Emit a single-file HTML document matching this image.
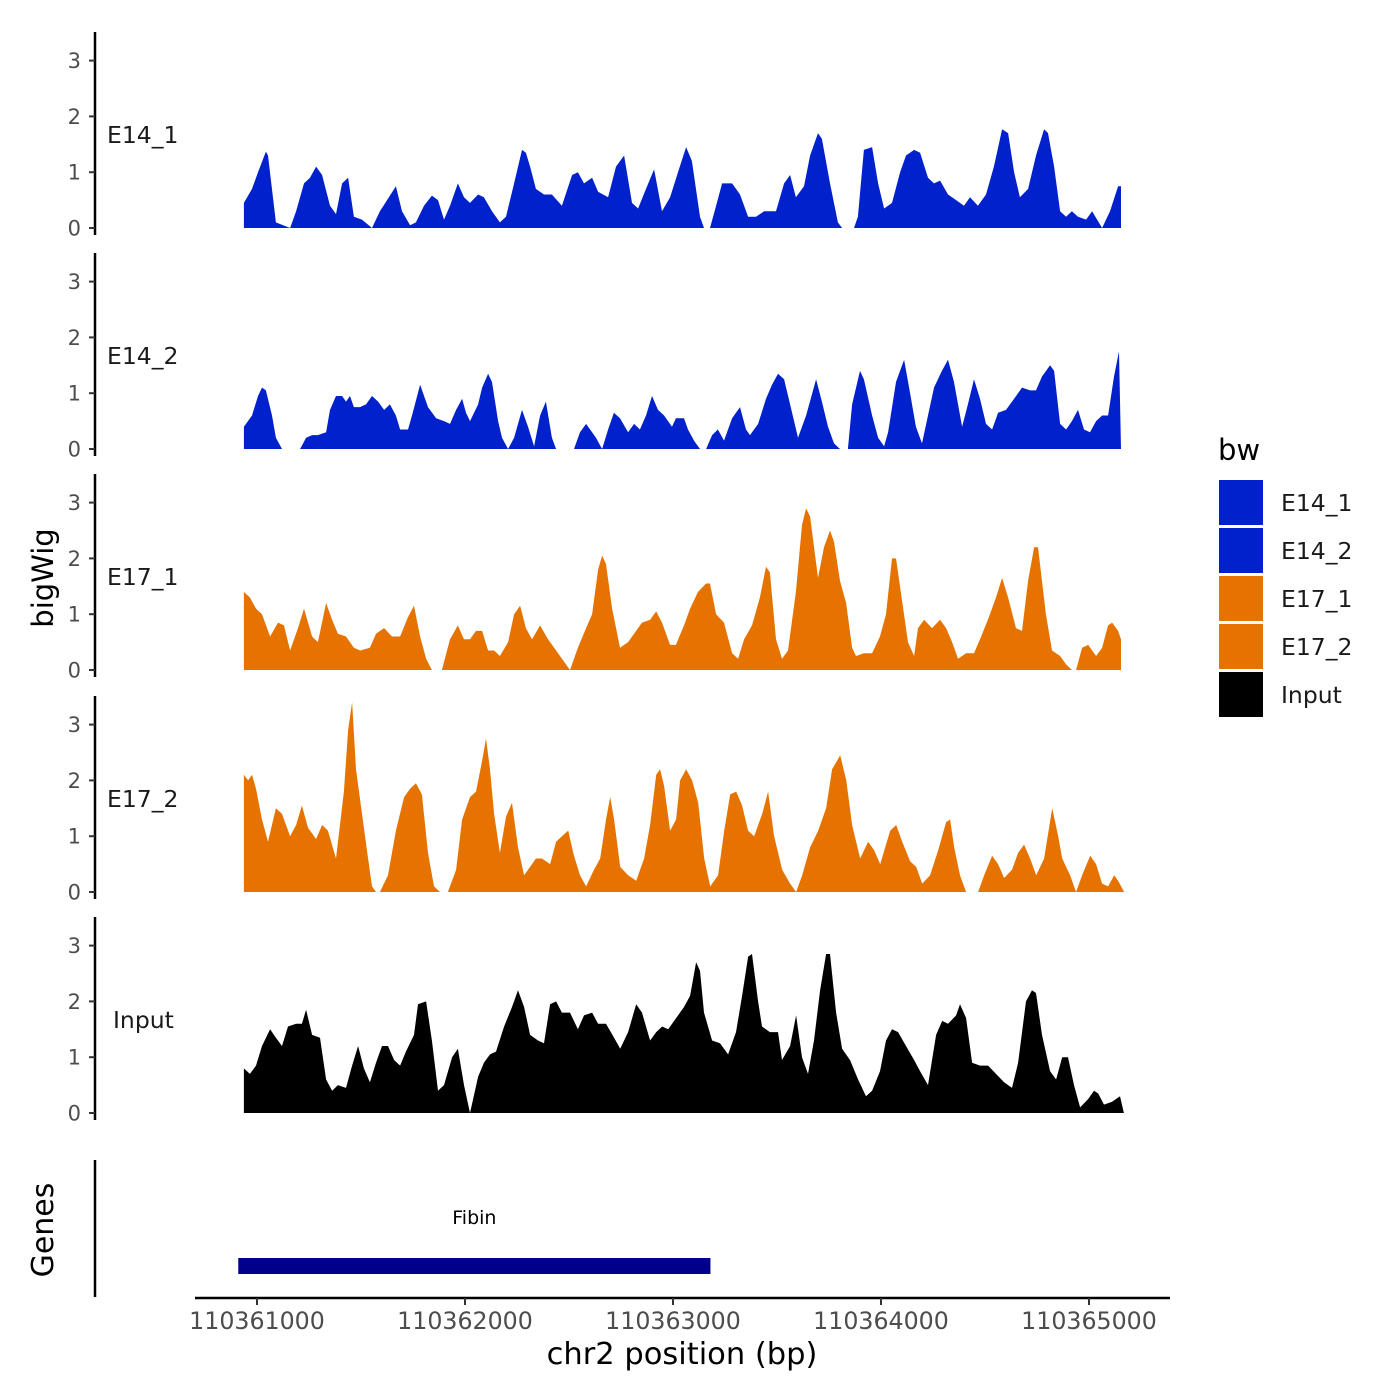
<!DOCTYPE html>
<html><head><meta charset="utf-8"><style>
html,body{margin:0;padding:0;background:#fff;}
svg{display:block;font-family:"DejaVu Sans","Liberation Sans",sans-serif;}
</style></head><body>
<svg id="chart" width="1400" height="1400" viewBox="0 0 1400 1400"></svg>
<script>
// ---------- data (positions are bp offsets from 110361000) ----------
const trackNames = ["E14_1","E14_2","E17_1","E17_2","Input"];
const yTicks = [0,1,2,3];
const xTicks = [110361000,110362000,110363000,110364000,110365000];
const geneName = "Fibin";
const geneStart = -90, geneEnd = 2180;

const e14_1Pos = [-63,-24,5,43,53,91,159,188,226,255,284,313,351,380,409,438,466,505,553,591,668,697,736,764,803,841,870,899,928,966,995,1024,1063,1091,1130,1168,1197,1236,1274,1293,1313,1341,1380,1418,1466,1515,1543,1572,1611,1640,1688,1726,1765,1803,1832,1870,1909,1947,1986,2024,2063,2091,2130,2149,2178,2207,2236,2284,2322,2361,2399,2438,2495,2534,2563,2591,2630,2659,2697,2716,2755,2793,2813,2870,2889,2918,2957,2986,3015,3053,3092,3120,3159,3188,3226,3255,3284,3322,3361,3399,3428,3466,3505,3543,3582,3611,3640,3668,3707,3745,3784,3803,3832,3861,3890,3918,3947,3986,4015,4063,4101,4140,4154];
const e14_1Val = [0.45,0.7,1.0,1.37,1.3,0.1,0,0.3,0.8,0.9,1.1,0.95,0.4,0.25,0.8,0.9,0.2,0.15,0,0.3,0.75,0.3,0.05,0.1,0.4,0.58,0.5,0.15,0.4,0.8,0.55,0.45,0.6,0.55,0.3,0.1,0.2,0.8,1.4,1.35,1.1,0.7,0.6,0.6,0.4,0.95,1.0,0.8,0.9,0.65,0.55,1.1,1.3,0.45,0.35,0.7,1.05,0.3,0.55,1.0,1.45,1.2,0.2,0,0,0.4,0.8,0.8,0.6,0.2,0.2,0.3,0.3,0.8,0.95,0.55,0.75,1.3,1.7,1.6,0.8,0.1,0,0,0.2,1.4,1.45,0.8,0.35,0.45,1.0,1.3,1.4,1.35,0.9,0.8,0.85,0.6,0.5,0.4,0.55,0.4,0.6,1.1,1.77,1.7,1.0,0.55,0.7,1.3,1.77,1.7,1.1,0.3,0.2,0.3,0.2,0.15,0.3,0.0,0.3,0.75,0.75];

const e14_2Pos = [-63,-24,5,24,43,72,91,120,207,236,265,293,332,351,380,409,428,447,466,495,524,553,582,611,639,668,688,726,745,784,822,861,899,928,957,986,1005,1024,1063,1082,1111,1130,1159,1178,1207,1236,1274,1303,1332,1361,1389,1418,1438,1524,1553,1582,1630,1659,1688,1716,1745,1784,1813,1841,1870,1899,1928,1957,1995,2014,2053,2072,2101,2130,2159,2188,2216,2245,2284,2322,2351,2370,2409,2447,2476,2505,2534,2563,2601,2640,2688,2716,2745,2774,2803,2841,2861,2899,2918,2957,2986,3015,3034,3072,3111,3140,3168,3197,3226,3255,3293,3322,3351,3390,3418,3447,3476,3505,3534,3563,3601,3640,3678,3717,3745,3774,3813,3832,3861,3890,3918,3947,3976,4005,4034,4063,4092,4120,4144,4154];
const e14_2Val = [0.4,0.6,0.95,1.1,1.05,0.6,0.2,0,0,0.2,0.25,0.25,0.3,0.7,0.95,0.95,0.85,0.95,0.75,0.75,0.8,0.95,0.85,0.7,0.8,0.6,0.35,0.35,0.6,1.15,0.75,0.55,0.5,0.45,0.7,0.9,0.65,0.5,0.8,1.1,1.35,1.2,0.5,0.2,0,0.2,0.7,0.4,0.05,0.6,0.85,0.2,0,0,0.3,0.45,0.2,0,0.35,0.65,0.55,0.3,0.45,0.35,0.6,0.95,0.7,0.6,0.4,0.55,0.55,0.35,0.15,0,0,0.25,0.35,0.15,0.55,0.75,0.35,0.25,0.45,0.9,1.15,1.35,1.25,0.8,0.2,0.6,1.25,0.85,0.4,0.1,0,0,0.8,1.4,1.25,0.6,0.2,0.05,0.3,1.2,1.6,1.0,0.4,0.1,0.6,1.1,1.4,1.6,1.2,0.4,0.8,1.25,0.9,0.45,0.35,0.65,0.7,0.9,1.1,1.05,1.05,1.3,1.5,1.4,0.45,0.35,0.5,0.7,0.35,0.3,0.5,0.6,0.6,1.3,1.75,0];

const e17_1Pos = [-63,-34,-5,24,63,101,130,159,197,226,265,293,332,361,389,428,466,495,543,572,611,649,688,726,755,784,813,841,889,928,966,995,1024,1053,1082,1111,1140,1168,1207,1236,1265,1293,1322,1361,1399,1438,1476,1505,1543,1582,1611,1640,1659,1678,1707,1745,1784,1813,1851,1890,1919,1947,1986,2014,2053,2082,2120,2159,2178,2207,2245,2284,2313,2342,2380,2418,2447,2466,2495,2524,2553,2591,2620,2640,2659,2697,2726,2755,2774,2803,2832,2861,2880,2918,2957,2995,3024,3053,3072,3101,3130,3159,3178,3207,3245,3284,3313,3342,3370,3409,3447,3476,3514,3553,3582,3611,3649,3678,3707,3736,3755,3793,3822,3861,3890,3918,3938,3967,3996,4034,4063,4092,4111,4140,4154];
const e17_1Val = [1.4,1.3,1.1,1.0,0.6,0.85,0.8,0.35,0.75,1.1,0.6,0.5,1.2,0.9,0.65,0.6,0.4,0.35,0.4,0.65,0.75,0.6,0.6,0.95,1.15,0.6,0.2,0,0,0.55,0.8,0.55,0.55,0.7,0.7,0.35,0.35,0.25,0.5,1.0,1.15,0.75,0.55,0.8,0.55,0.35,0.15,0,0.4,0.75,1.0,1.8,2.05,1.9,1.1,0.4,0.5,0.65,0.85,0.9,1.05,0.85,0.45,0.45,0.8,1.1,1.4,1.55,1.55,1.0,0.85,0.3,0.2,0.55,0.8,1.3,1.85,1.75,0.55,0.2,0.35,1.4,2.6,2.9,2.75,1.65,2.2,2.5,2.3,1.6,1.2,0.4,0.25,0.3,0.3,0.6,1.0,2.0,2.0,1.25,0.5,0.25,0.75,0.9,0.75,0.9,0.75,0.5,0.2,0.3,0.3,0.55,0.9,1.3,1.65,1.3,0.75,0.7,1.6,2.2,2.2,1.0,0.35,0.25,0.1,0,0,0.4,0.45,0.25,0.4,0.8,0.85,0.7,0.55];

const e17_2Pos = [-63,-43,-24,-5,24,53,91,120,159,188,216,245,284,313,341,380,418,438,457,476,505,534,553,572,591,630,668,707,736,764,793,822,851,880,918,957,986,1024,1053,1082,1101,1120,1140,1168,1197,1226,1255,1284,1313,1341,1370,1409,1438,1466,1496,1524,1553,1582,1620,1650,1678,1698,1717,1746,1784,1823,1861,1890,1919,1938,1957,1986,2015,2034,2063,2092,2121,2150,2179,2217,2246,2275,2304,2332,2361,2390,2429,2457,2486,2525,2563,2592,2621,2659,2698,2736,2765,2804,2833,2861,2900,2938,2967,2996,3044,3073,3102,3140,3169,3198,3236,3275,3313,3332,3352,3380,3409,3467,3496,3534,3563,3592,3630,3659,3688,3717,3746,3784,3823,3852,3871,3909,3938,3967,4006,4034,4063,4092,4121,4140,4169];
const e17_2Val = [2.1,2.0,2.1,1.85,1.3,0.9,1.5,1.4,1.0,1.2,1.55,1.15,0.95,1.2,1.1,0.6,1.8,2.9,3.4,2.2,1.4,0.6,0.1,0,0,0.3,1.1,1.7,1.85,1.95,1.75,0.7,0.1,0,0,0.4,1.3,1.7,1.8,2.35,2.75,2.2,1.4,0.7,1.35,1.6,0.8,0.3,0.45,0.6,0.6,0.5,0.9,1.0,1.1,0.65,0.3,0.1,0.4,0.6,1.3,1.7,1.3,0.45,0.3,0.2,0.6,1.2,2.1,2.2,1.9,1.1,1.3,2.0,2.2,2.0,1.6,0.6,0.1,0.3,1.1,1.75,1.8,1.55,1.1,1.0,1.4,1.8,1.0,0.4,0.15,0,0.3,0.8,1.1,1.5,2.2,2.45,2.0,1.2,0.6,0.9,0.75,0.5,1.1,1.2,0.9,0.55,0.45,0.15,0.3,0.75,1.25,1.3,0.8,0.3,0,0,0.3,0.65,0.5,0.25,0.4,0.7,0.85,0.6,0.3,0.6,1.5,1.0,0.6,0.3,0,0.3,0.65,0.5,0.15,0.1,0.3,0.2,0];

const inputPos = [-63,-34,-5,24,63,91,120,149,188,216,236,265,303,332,361,389,428,457,486,514,543,572,601,630,659,688,716,755,774,813,841,870,899,938,966,995,1024,1063,1091,1120,1149,1188,1226,1255,1284,1313,1351,1380,1409,1438,1466,1505,1543,1572,1611,1640,1678,1717,1746,1784,1823,1851,1890,1919,1948,1977,2015,2053,2082,2111,2130,2149,2188,2226,2265,2303,2332,2361,2380,2409,2428,2466,2505,2524,2563,2592,2620,2649,2678,2707,2736,2755,2784,2813,2851,2890,2928,2957,2995,3024,3053,3082,3120,3159,3188,3226,3265,3294,3322,3361,3380,3409,3438,3476,3515,3553,3592,3630,3659,3697,3726,3745,3774,3813,3842,3871,3899,3928,3957,3996,4024,4044,4072,4111,4149,4168];
const inputVal = [0.8,0.7,0.85,1.2,1.5,1.35,1.2,1.55,1.6,1.6,1.85,1.4,1.35,0.6,0.4,0.5,0.45,0.85,1.2,0.8,0.55,0.9,1.2,1.2,0.95,0.85,1.1,1.4,1.95,2.0,1.3,0.4,0.5,1.0,1.15,0.5,0.0,0.65,0.9,1.05,1.1,1.55,1.9,2.2,1.9,1.4,1.3,1.25,1.95,2.0,1.8,1.8,1.5,1.75,1.8,1.6,1.6,1.35,1.15,1.45,1.95,1.8,1.3,1.45,1.55,1.5,1.7,1.9,2.1,2.7,2.55,1.8,1.3,1.25,1.05,1.45,2.1,2.8,2.85,2.0,1.55,1.45,1.45,0.95,1.2,1.75,1.0,0.7,1.3,2.2,2.85,2.85,1.8,1.15,0.95,0.6,0.3,0.4,0.75,1.3,1.5,1.45,1.2,0.95,0.75,0.5,1.4,1.65,1.6,1.75,1.95,1.7,0.9,0.85,0.85,0.7,0.55,0.45,0.9,2.0,2.2,2.15,1.4,0.75,0.6,1.0,1.0,0.5,0.1,0.25,0.4,0.35,0.15,0.2,0.3,0];

const trackPos = [e14_1Pos,e14_2Pos,e17_1Pos,e17_2Pos,inputPos];
const trackVal = [e14_1Val,e14_2Val,e17_1Val,e17_2Val,inputVal];
const trackColor = ["#0021CC","#0021CC","#E67300","#E67300","#000000"];

// ---------- scales ----------
const NS="http://www.w3.org/2000/svg";
const svg=document.getElementById('chart');
const X0=110361000;
function xScale(off){return 257 + off/1000*208;}
function xAbs(bp){return xScale(bp-X0);}
const baselines=[228,449,670,892,1113];
const unit=55.8;
function mk(tag,attrs,parent){const e=document.createElementNS(NS,tag);for(const k in attrs)e.setAttribute(k,attrs[k]);(parent||svg).appendChild(e);return e;}

trackNames.forEach((name,i)=>{
  const base=baselines[i];
  const g=mk('g',{});
  
  
  const pos=trackPos[i], val=trackVal[i];
  let d='M'+xScale(pos[0]).toFixed(1)+','+base;
  for(let k=0;k<pos.length;k++){d+=' L'+xScale(pos[k]).toFixed(1)+','+(base-val[k]*unit).toFixed(1);}
  d+=' L'+xScale(pos[pos.length-1]).toFixed(1)+','+base+' Z';
  const p=mk('path',{d:d,fill:trackColor[i]},g);
  
  
  const ax=mk('line',{x1:95,x2:95,y1:base-196,y2:base+7,stroke:'#000','stroke-width':2.5},g);
  
  
  yTicks.forEach(t=>{
    const y=base-t*unit;
    const tk=mk('line',{x1:89,x2:95,y1:y,y2:y,stroke:'#333','stroke-width':2},g);
    
    
    const tl=mk('text',{x:81,y:y+7.5,'text-anchor':'end','font-size':21,fill:'#4d4d4d'},g);
    tl.textContent=t;
    
    
  });
  const lab=mk('text',{x:name==='Input'?113:107,y:base-85,'font-size':23.5,fill:'#1a1a1a'},g);
  lab.textContent=name;
  
  
});

const yt=mk('text',{x:0,y:0,transform:'translate(53,578) rotate(-90)','text-anchor':'middle','font-size':29,fill:'#000'});
yt.textContent='bigWig';



const ga=mk('line',{x1:95,x2:95,y1:1160,y2:1297,stroke:'#000','stroke-width':2.5});


const gt=mk('text',{x:0,y:0,transform:'translate(53,1230) rotate(-90)','text-anchor':'middle','font-size':30,fill:'#000'});
gt.textContent='Genes';


const gb=mk('rect',{x:xScale(geneStart),y:1258,width:xScale(geneEnd)-xScale(geneStart),height:16,fill:'#00008B'});


const gl=mk('text',{x:(xScale(geneStart)+xScale(geneEnd))/2,y:1224,'text-anchor':'middle','font-size':19,fill:'#000'});
gl.textContent=geneName;



const xa=mk('line',{x1:195,x2:1170,y1:1298,y2:1298,stroke:'#000','stroke-width':2.5});


xTicks.forEach(t=>{
  const x=xAbs(t);
  const tk=mk('line',{x1:x,x2:x,y1:1298,y2:1305,stroke:'#333','stroke-width':2});
  
  
  const tl=mk('text',{x:x,y:1329,'text-anchor':'middle','font-size':23.7,fill:'#4d4d4d'});
  tl.textContent=t;
  
  
});
const xt=mk('text',{x:682,y:1364,'text-anchor':'middle','font-size':30.5,fill:'#000'});
xt.textContent='chr2 position (bp)';



const lg=mk('g',{});


const lt=mk('text',{x:1218,y:460,'font-size':29,fill:'#000'},lg);
lt.textContent='bw';


trackNames.forEach((name,i)=>{
  const y=480+i*48;
  const r=mk('rect',{x:1219,y:y,width:44,height:45,fill:trackColor[i]},lg);
  
  
  const t=mk('text',{x:1281,y:y+31,'font-size':23.5,fill:'#1a1a1a'},lg);
  t.textContent=name;
  
  
});
</script>
</body></html>
